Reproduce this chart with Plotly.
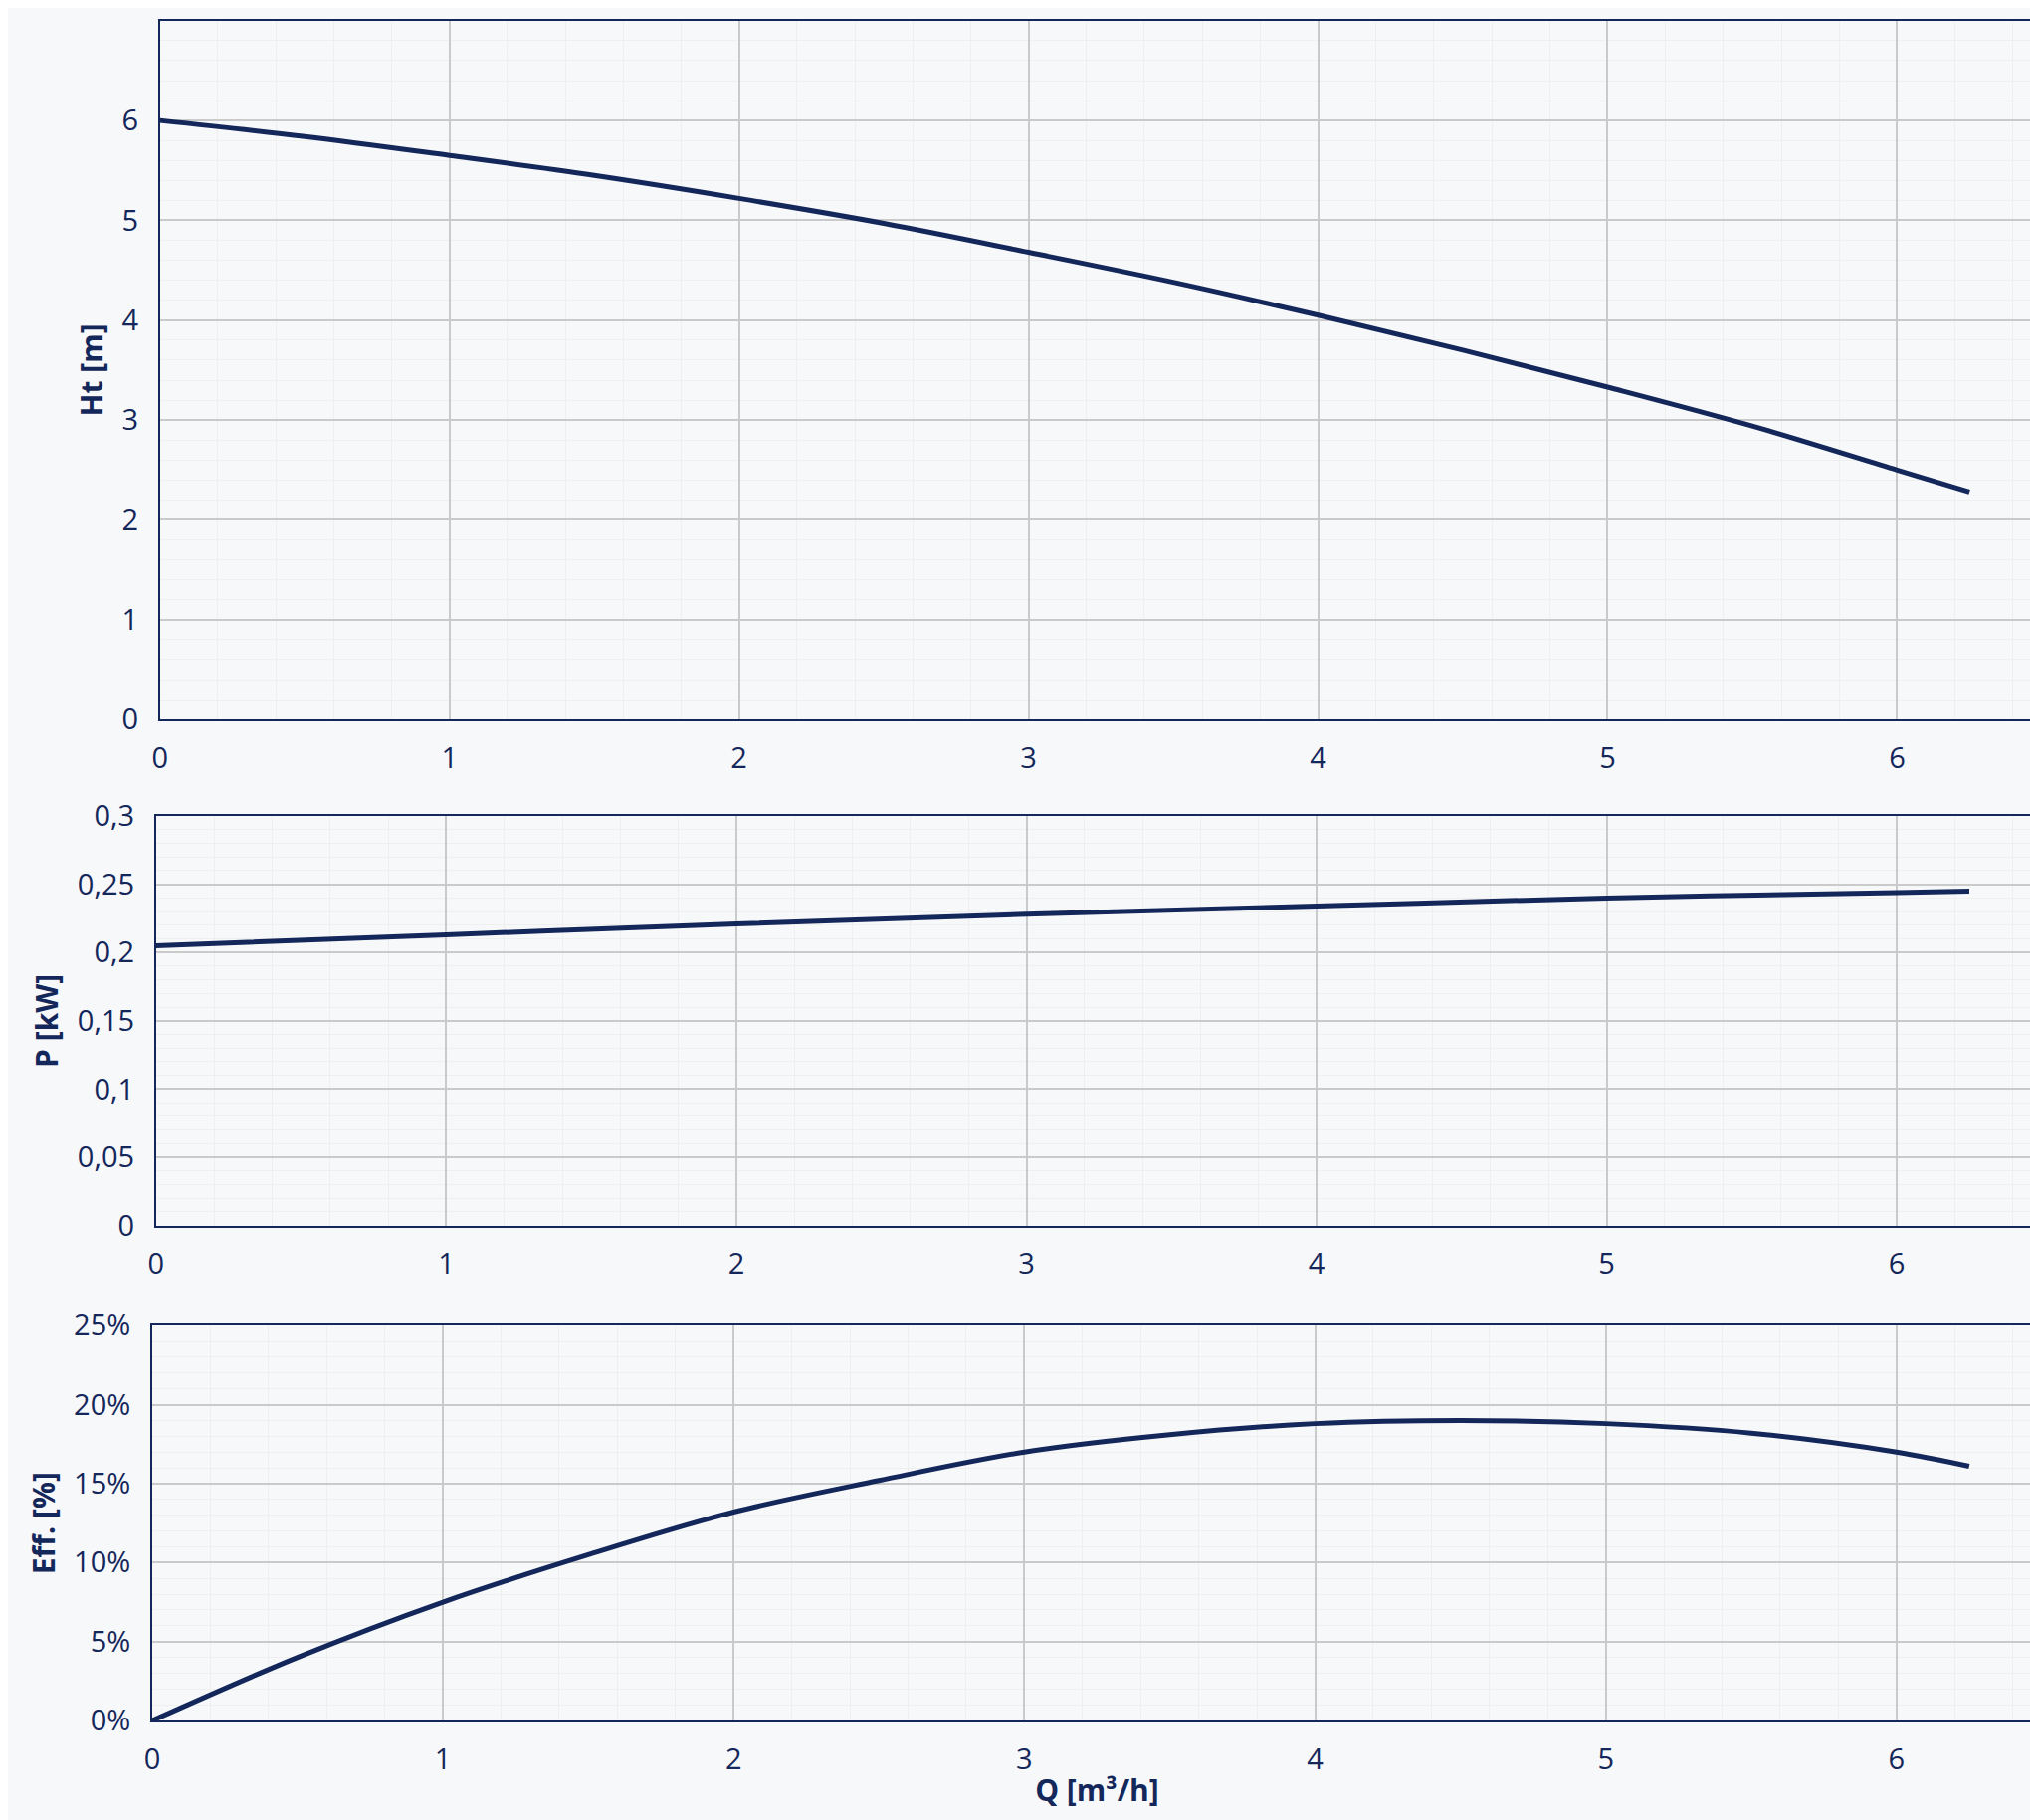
import plotly.graph_objects as go

q_h = [0, 0.5, 1, 1.5, 2, 2.5, 3, 3.5, 4, 4.5, 5, 5.5, 6, 6.25]
head = [6.0, 5.84, 5.65, 5.45, 5.22, 4.97, 4.68, 4.38, 4.05, 3.70, 3.33, 2.94, 2.50, 2.28]
q_p = [0, 1, 2, 3, 4, 5, 6, 6.25]
power = [0.205, 0.213, 0.221, 0.228, 0.234, 0.240, 0.244, 0.245]
q_e = [0, 0.5, 1, 1.5, 2, 2.5, 3, 3.5, 4, 4.5, 5, 5.5, 6, 6.25]
eff = [0, 0.040, 0.075, 0.105, 0.132, 0.152, 0.170, 0.181, 0.188, 0.190, 0.188, 0.182, 0.170, 0.161]

navy = "#14275a"
fig = go.Figure()
fig.add_trace(go.Scatter(x=q_h, y=head, mode="lines", line=dict(color=navy, width=5, shape="spline"), xaxis="x", yaxis="y"))
fig.add_trace(go.Scatter(x=q_p, y=power, mode="lines", line=dict(color=navy, width=5, shape="spline"), xaxis="x2", yaxis="y2"))
fig.add_trace(go.Scatter(x=q_e, y=eff, mode="lines", line=dict(color=navy, width=5, shape="spline"), xaxis="x3", yaxis="y3"))

font = dict(family="Open Sans", size=29, color=navy)
tfont = dict(family="Open Sans", size=30, color=navy, weight="bold")
def xax(left, anchor, title=None):
    d = dict(domain=[left, 0.998], range=[0, 6.5], dtick=1, tick0=0, showgrid=True, gridcolor="#cacaca", gridwidth=2,
             minor=dict(dtick=0.2, showgrid=True, gridcolor="#efefef", gridwidth=1),
             showline=True, linecolor=navy, linewidth=2, mirror=True, ticks="", tickfont=font,
             zeroline=False, anchor=anchor, ticklabelstandoff=12, automargin=False)
    if title:
        d["title"] = dict(text=title, font=tfont, standoff=4)
    return d
def yax(dom, rng, dtick, minor, title, anchor, fmt=None):
    d = dict(domain=dom, range=rng, dtick=dtick, tick0=0, showgrid=True, gridcolor="#cacaca", gridwidth=2,
             minor=dict(dtick=minor, showgrid=True, gridcolor="#efefef", gridwidth=1),
             showline=True, linecolor=navy, linewidth=2, mirror=True, ticks="", tickfont=font, zeroline=False,
             anchor=anchor, ticklabelstandoff=14, automargin=False,
             title=dict(text=title, font=tfont, standoff=10))
    if fmt:
        d["tickformat"] = fmt
    return d

fig.update_layout(
    width=2048, height=1829, paper_bgcolor="#f7f8fa", plot_bgcolor="#f7f8fa",
    margin=dict(l=0, r=0, t=0, b=0, autoexpand=False), showlegend=False,
    separators=", ",
    xaxis=xax(0.0746, "y"),
    xaxis2=xax(0.0727, "y2"),
    xaxis3=xax(0.0708, "y3", "Q [m³/h]"),
    yaxis=yax([0.609, 0.993], [0, 7], 1, 0.2, "Ht [m]", "x"),
    yaxis2=yax([0.331, 0.556], [0, 0.3], 0.05, 0.01, "P [kW]", "x2"),
    yaxis3=yax([0.059, 0.276], [0, 0.25], 0.05, 0.01, "Eff. [%]", "x3", ".0%"),
)
fig.write_html("out.html")
